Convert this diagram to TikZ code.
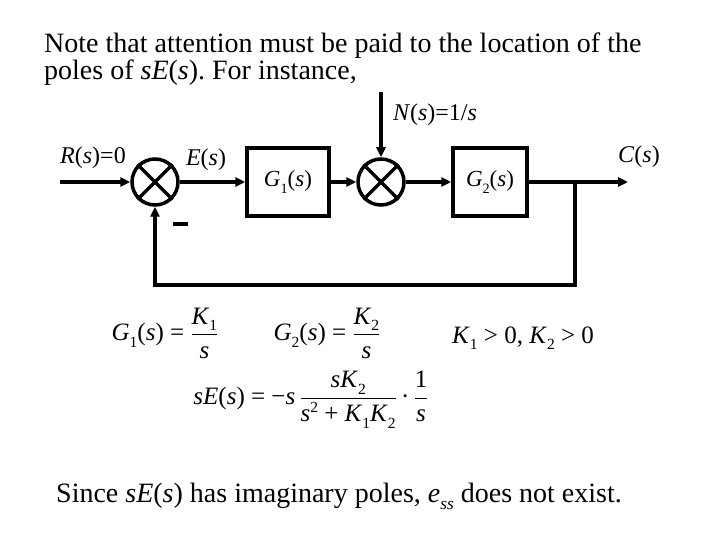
\documentclass[tikz,border=0pt]{standalone}
\usepackage{amsmath}
\usepackage{fontspec}
\setmainfont{Liberation Serif}
\usetikzlibrary{arrows.meta}
\frenchspacing
\newcommand\vi[1]{\textit{#1}}
\newcommand\mysub[1]{\raisebox{-0.6ex}{\scalebox{0.62}{#1}}}
\newcommand\mysup[1]{\raisebox{0.8ex}{\scalebox{0.62}{#1}}}
\tikzset{
  conn/.style={line width=3.5pt},
  arr/.style={conn,-{Triangle[length=10pt,width=9pt]}},
  sumnode/.style={draw,circle,line width=3.5pt,minimum size=46pt,inner sep=0pt},
  blockbox/.style={draw,line width=3.5pt,minimum width=82pt,minimum height=68pt,inner sep=0pt,font=\fontsize{23}{26}\selectfont},
  lbl/.style={font=\fontsize{24}{28}\selectfont,inner sep=0pt},
  body/.style={font=\fontsize{28}{32}\selectfont,inner sep=0pt},
  eqn/.style={font=\fontsize{25}{29}\selectfont,inner sep=0pt}
}
\begin{document}
\begin{tikzpicture}[x=1pt,y=-1pt]
\useasboundingbox (0,0) rectangle (720,540);
% heading text
\node[body,anchor=base west] (t1) at (44,53) {Note that attention must be paid to the location of the};
\node[body,anchor=base west] (t2) at (44,80) {poles of \vi{sE}(\vi{s}). For instance,};
% blocks
\node[sumnode] (s1) at (155,182) {};
\draw[line width=3.5pt] (s1.north west) -- (s1.south east) (s1.north east) -- (s1.south west);
\node[sumnode] (s2) at (381,182) {};
\draw[line width=3.5pt] (s2.north west) -- (s2.south east) (s2.north east) -- (s2.south west);
\node[blockbox] (g1) at (288,182) {\vi{G}\mysub{1}(\vi{s})};
\node[blockbox,minimum width=74pt] (g2) at (490,182) {\vi{G}\mysub{2}(\vi{s})};
\coordinate (rin) at (60,182);
\coordinate (nin) at (381,92);
\coordinate (br) at (575,182);
\coordinate (cout) at (628,182);
\coordinate (fb1) at (575,285);
\coordinate (fb2) at (155,285);
% connectors
\draw[arr] (rin) -- (s1.west);
\draw[arr] (s1.east) -- (g1.west);
\draw[arr] (g1.east) -- (s2.west);
\draw[arr] (nin) -- (s2.north);
\draw[arr] (s2.east) -- (g2.west);
\draw[arr] (g2.east) -- (cout);
\draw[conn,line join=miter] (br) -- (fb1) -- (fb2) -- ([yshift=-1.75pt]fb2);
\draw[arr] ([yshift=1.75pt]fb2) -- (fb2) -- (s1.south);
% labels
\node[lbl] (lr) at (93,158) {\vi{R}(\vi{s})=0};
\node[lbl] (le) at (206,160) {\vi{E}(\vi{s})};
\node[lbl] (ln) at (435,115) {\vi{N}(\vi{s})=1/\vi{s}};
\node[lbl] (lc) at (639,157) {\vi{C}(\vi{s})};
\coordinate (m1) at (173,224);
\coordinate (m2) at (188,224);
\draw[line width=3.5pt] (m1) -- (m2);
% equations
\node[eqn] (e1) at (165,333) {$\displaystyle \text{\vi{G}\mysub{1}(\vi{s}) = }\frac{\text{\vi{K}\mysub{1}}}{\text{\vi{s}}}$};
\node[eqn] (e2) at (327,333) {$\displaystyle \text{\vi{G}\mysub{2}(\vi{s}) = }\frac{\text{\vi{K}\mysub{2}}}{\text{\vi{s}}}$};
\node[eqn,anchor=base west] (e3) at (452,343) {\vi{K}\mysub{1} > 0, \vi{K}\mysub{2} > 0};
\node[eqn] (e4) at (311,400) {$\displaystyle \text{\vi{sE}(\vi{s}) = −\vi{s}\,}\frac{\text{\vi{sK}\mysub{2}}}{\text{\vi{s}\mysup{2} + \vi{K}\mysub{1}\vi{K}\mysub{2}}}\text{\,·\,}\frac{\text{1}}{\text{\vi{s}}}$};
% bottom text
\node[body,anchor=base west] (t3) at (56,502) {Since \vi{sE}(\vi{s}) has imaginary poles, \vi{e}\mysub{\vi{ss}} does not exist.};
\end{tikzpicture}
\end{document}
